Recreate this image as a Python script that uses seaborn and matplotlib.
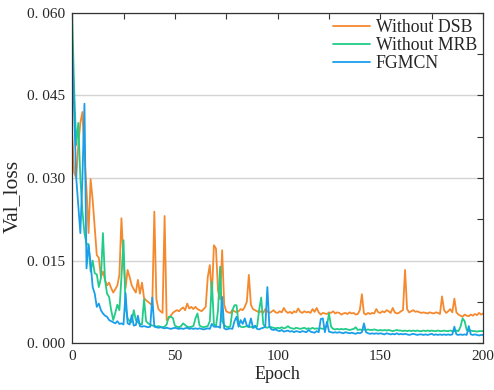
import numpy as np
import pandas as pd
import matplotlib
matplotlib.use("Agg")
import matplotlib.pyplot as plt
from matplotlib.ticker import MultipleLocator, FuncFormatter
import seaborn as sns

# ----------------------------------------
# Data: validation loss per epoch (0..200)
# ----------------------------------------
epochs = list(range(201))

without_dsb = [
    0.038, 0.031, 0.030, 0.036, 0.040, 0.042, 0.034, 0.028, 0.020, 0.0298,
    0.026, 0.021, 0.016, 0.0155, 0.012, 0.0130, 0.0115, 0.0105, 0.0110, 0.0100,
    0.0092, 0.0098, 0.0105, 0.0124, 0.0227, 0.0150, 0.0100, 0.0133, 0.0120, 0.0105,
    0.0098, 0.0092, 0.0115, 0.0090, 0.0110, 0.0082, 0.0078, 0.0075, 0.0072, 0.0068,
    0.0239, 0.0080, 0.0062, 0.0058, 0.0055, 0.0231, 0.0042, 0.0045, 0.0050, 0.0055,
    0.0058, 0.0060, 0.0058, 0.0062, 0.0065, 0.0060, 0.0072, 0.0063, 0.0066, 0.0062,
    0.0066, 0.0062, 0.0060, 0.0058, 0.0062, 0.0066, 0.0120, 0.0142, 0.0085, 0.0178,
    0.0172, 0.0095, 0.0080, 0.0169, 0.0070, 0.0058, 0.0056, 0.0055, 0.0060, 0.0058,
    0.0056, 0.0058, 0.0062, 0.0060, 0.0066, 0.0075, 0.0124, 0.0070, 0.0062, 0.0060,
    0.0058, 0.0056, 0.0058, 0.0055, 0.0062, 0.0058, 0.0055, 0.0057, 0.0060, 0.0056,
    0.0055, 0.0058, 0.0056, 0.0064, 0.0058, 0.0055, 0.0057, 0.0054, 0.0058, 0.0056,
    0.0063, 0.0057, 0.0055, 0.0058, 0.0056, 0.0057, 0.0055, 0.0062, 0.0057, 0.0064,
    0.0056, 0.0052, 0.0055, 0.0054, 0.0053, 0.0056, 0.0055, 0.0058, 0.0054, 0.0056,
    0.0055, 0.0052, 0.0054, 0.0055, 0.0053, 0.0056, 0.0054, 0.0055, 0.0052, 0.0053,
    0.0060, 0.0089, 0.0054, 0.0052, 0.0055, 0.0053, 0.0055, 0.0054, 0.0062, 0.0056,
    0.0055, 0.0058, 0.0056, 0.0060, 0.0058, 0.0055, 0.0064, 0.0056, 0.0054, 0.0055,
    0.0058, 0.0060, 0.0133, 0.0062, 0.0056, 0.0058, 0.0060, 0.0057, 0.0058, 0.0056,
    0.0055, 0.0056, 0.0055, 0.0054, 0.0056, 0.0055, 0.0054, 0.0056, 0.0055, 0.0053,
    0.0085, 0.0060, 0.0055, 0.0058, 0.0062, 0.0056, 0.0081, 0.0056, 0.0052, 0.0050,
    0.0048, 0.0052, 0.0050, 0.0049, 0.0052, 0.0050, 0.0053, 0.0051, 0.0055, 0.0052,
    0.0054,
]

without_mrb = [
    0.060, 0.046, 0.036, 0.040, 0.030, 0.024, 0.020, 0.018, 0.018, 0.013,
    0.015, 0.0127, 0.0125, 0.0102, 0.0118, 0.0200, 0.0115, 0.0090, 0.0084, 0.0060,
    0.0042, 0.0055, 0.0070, 0.0060, 0.0120, 0.0187, 0.0065, 0.0045, 0.0040, 0.0038,
    0.0060, 0.0042, 0.0038, 0.0035, 0.0034, 0.0080, 0.0040, 0.0036, 0.0034, 0.0032,
    0.0032, 0.0030, 0.0031, 0.0030, 0.0029, 0.0030, 0.0034, 0.0048, 0.0048, 0.0046,
    0.0032, 0.0030, 0.0029, 0.0031, 0.0036, 0.0033, 0.0030, 0.0029, 0.0030, 0.0031,
    0.0045, 0.0054, 0.0032, 0.0030, 0.0029, 0.0030, 0.0031, 0.0040, 0.0112, 0.0035,
    0.0030, 0.0060, 0.0139, 0.0040, 0.0033, 0.0030, 0.0029, 0.0031, 0.0060, 0.0069,
    0.0069, 0.0035, 0.0030, 0.0029, 0.0030, 0.0031, 0.0029, 0.0030, 0.0028, 0.0029,
    0.0030, 0.0060, 0.0083, 0.0035, 0.0029, 0.0028, 0.0030, 0.0029, 0.0028, 0.0027,
    0.0028, 0.0027, 0.0029, 0.0027, 0.0028, 0.0031, 0.0028, 0.0027, 0.0026, 0.0028,
    0.0027, 0.0026, 0.0027, 0.0028, 0.0026, 0.0027, 0.0026, 0.0028, 0.0026, 0.0027,
    0.0026, 0.0027, 0.0026, 0.0028, 0.0032, 0.0054, 0.0030, 0.0026, 0.0025, 0.0026,
    0.0025, 0.0026, 0.0025, 0.0026, 0.0025, 0.0024, 0.0025, 0.0026, 0.0029, 0.0024,
    0.0025, 0.0024, 0.0025, 0.0024, 0.0025, 0.0024, 0.0024, 0.0025, 0.0024, 0.0023,
    0.0024, 0.0023, 0.0024, 0.0023, 0.0024, 0.0023, 0.0022, 0.0023, 0.0024, 0.0023,
    0.0023, 0.0022, 0.0023, 0.0022, 0.0023, 0.0022, 0.0023, 0.0022, 0.0023, 0.0022,
    0.0022, 0.0023, 0.0022, 0.0023, 0.0022, 0.0023, 0.0022, 0.0022, 0.0023, 0.0022,
    0.0022, 0.0023, 0.0022, 0.0022, 0.0023, 0.0022, 0.0022, 0.0023, 0.0022, 0.0030,
    0.0045, 0.0040, 0.0024, 0.0022, 0.0023, 0.0022, 0.0022, 0.0021, 0.0022, 0.0022,
    0.0022,
]

fgmcn = [
    0.055, 0.042, 0.030, 0.025, 0.020, 0.030, 0.0435, 0.0136, 0.0178, 0.0145,
    0.0102, 0.0090, 0.0066, 0.0072, 0.0060, 0.0054, 0.0050, 0.0048, 0.0042, 0.0040,
    0.0038, 0.0036, 0.0040, 0.0035, 0.0036, 0.0034, 0.0091, 0.0036, 0.0034, 0.0051,
    0.0032, 0.0033, 0.0050, 0.0031, 0.0030, 0.0031, 0.0030, 0.0029, 0.0030, 0.0083,
    0.0030, 0.0029, 0.0028, 0.0029, 0.0028, 0.0027, 0.0028, 0.0027, 0.0026, 0.0027,
    0.0028, 0.0027, 0.0026, 0.0027, 0.0026, 0.0027, 0.0028, 0.0026, 0.0027, 0.0026,
    0.0027, 0.0026, 0.0027, 0.0026, 0.0025, 0.0026, 0.0027, 0.0026, 0.0035, 0.0030,
    0.0030, 0.0030, 0.0028, 0.0084, 0.0027, 0.0025, 0.0026, 0.0027, 0.0026, 0.0040,
    0.0048, 0.0030, 0.0042, 0.0035, 0.0045, 0.0032, 0.0030, 0.0045, 0.0028, 0.0032,
    0.0026, 0.0025, 0.0027, 0.0028, 0.0030, 0.0102, 0.0030, 0.0025, 0.0024, 0.0025,
    0.0023, 0.0022, 0.0024, 0.0021, 0.0022, 0.0023, 0.0021, 0.0022, 0.0020, 0.0022,
    0.0021, 0.0020, 0.0022, 0.0021, 0.0020, 0.0024, 0.0021, 0.0020, 0.0019, 0.0022,
    0.0020, 0.0044, 0.0045, 0.0020, 0.0039, 0.0021, 0.0020, 0.0019, 0.0020, 0.0019,
    0.0020, 0.0019, 0.0018, 0.0020, 0.0019, 0.0018, 0.0019, 0.0018, 0.0017, 0.0019,
    0.0018, 0.0020, 0.0036, 0.0020, 0.0018, 0.0017, 0.0018, 0.0017, 0.0018, 0.0017,
    0.0018, 0.0017, 0.0016, 0.0018, 0.0017, 0.0016, 0.0017, 0.0016, 0.0018, 0.0016,
    0.0017, 0.0016, 0.0017, 0.0016, 0.0015, 0.0016, 0.0017, 0.0016, 0.0015, 0.0016,
    0.0016, 0.0015, 0.0016, 0.0015, 0.0016, 0.0017, 0.0015, 0.0016, 0.0015, 0.0016,
    0.0015, 0.0016, 0.0015, 0.0016, 0.0015, 0.0016, 0.0030, 0.0016, 0.0015, 0.0016,
    0.0015, 0.0016, 0.0015, 0.0031, 0.0016, 0.0015, 0.0016, 0.0015, 0.0014, 0.0015,
    0.0015,
]

series_names = ["Without DSB", "Without MRB", "FGMCN"]
colors = ["#F5892E", "#22CC88", "#1A9EEA"]

df = pd.DataFrame({
    "Epoch": epochs * 3,
    "Val_loss": without_dsb + without_mrb + fgmcn,
    "Model": [series_names[0]] * 201 + [series_names[1]] * 201 + [series_names[2]] * 201,
})

# ----------------------------------------
# Plot
# ----------------------------------------
sns.set_theme(style="white")
plt.rcParams["font.family"] = ["Liberation Serif", "DejaVu Serif"]

fig = plt.figure(figsize=(4.94, 3.90), dpi=100)
ax = fig.add_axes([0.146, 0.12, 0.832, 0.847])

sns.lineplot(data=df, x="Epoch", y="Val_loss", hue="Model",
             palette=dict(zip(series_names, colors)), linewidth=1.3, ax=ax)

ax.set_xlim(0, 200)
ax.set_ylim(0, 0.060)
ax.xaxis.set_major_locator(MultipleLocator(50))
ax.xaxis.set_minor_locator(MultipleLocator(25))
ax.yaxis.set_major_locator(MultipleLocator(0.015))
ax.yaxis.set_minor_locator(MultipleLocator(0.0075))
ax.yaxis.set_major_formatter(FuncFormatter(lambda v, p: "0. " + f"{v:.3f}"[2:]))

ax.tick_params(which="both", direction="in", top=True, right=True,
               length=4, width=0.8, color="#333333", labelsize=11, pad=5)
ax.grid(axis="y", which="major", color="#d4d4d4", linewidth=1.0)
ax.set_axisbelow(True)
for s in ax.spines.values():
    s.set_color("#333333")
    s.set_linewidth(0.9)

ax.set_xlabel("Epoch", fontsize=13, labelpad=2)
ax.set_ylabel("Val_loss", fontsize=15.5)
ax.yaxis.set_label_coords(-0.122, 0.445)

ax.legend(title=None, frameon=False, loc="upper right", fontsize=12.8,
          handlelength=2.1, handletextpad=0.3, labelspacing=0.05,
          borderaxespad=0.15, borderpad=0.2)

fig.savefig("out.png", dpi=100)
